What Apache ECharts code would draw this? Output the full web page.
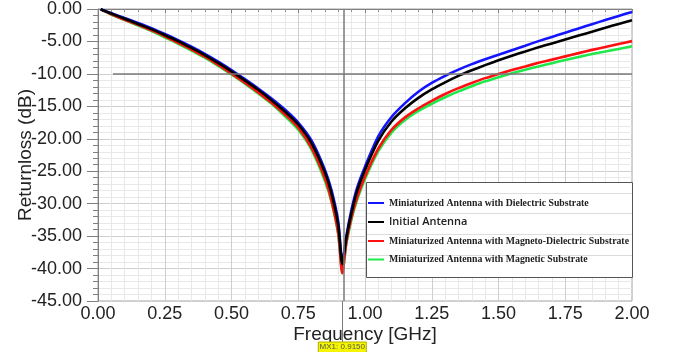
<!DOCTYPE html>
<html>
<head>
<meta charset="utf-8">
<script src="https://cdn.jsdelivr.net/npm/echarts@6/dist/echarts.min.js"></script>
<style>
  html, body { margin: 0; padding: 0; background: #fff; }
  #chart { width: 675px; height: 352px; }
</style>
</head>
<body>
<div id="chart"></div>
<script>
// frequency sweep (GHz)
const freq = [0.01,
  0.05, 0.1, 0.15, 0.2, 0.25, 0.3, 0.35, 0.4, 0.45, 0.5, 0.55, 0.6, 0.65, 0.7, 0.75, 0.8, 0.85,
  0.875, 0.9, 0.915, 0.93, 0.95, 0.97,
  1.0,
  1.05, 1.1, 1.15, 1.2, 1.25, 1.3, 1.35, 1.4, 1.45, 1.5, 1.55, 1.6, 1.65, 1.7, 1.75, 1.8, 1.85, 1.9, 1.95, 2.0];

// return loss (dB)
const dielectric = [-0.05,
  -0.65, -1.4, -2.15, -2.95, -3.85, -4.8, -5.8, -6.9, -8.1, -9.4, -10.8, -12.25, -13.8, -15.5, -17.5, -20.3, -24.8,
  -28.0, -32.8, -39.0, -35.0, -30.8, -27.6,
  -24.3,
  -19.6, -16.6, -14.5, -12.75, -11.4, -10.3, -9.35, -8.5, -7.75, -7.05, -6.35, -5.65, -4.95, -4.3, -3.65, -3.0, -2.35, -1.7, -1.07, -0.45];
const initial = [-0.05,
  -0.7, -1.5, -2.3, -3.1, -4.0, -4.95, -6.0, -7.1, -8.3, -9.6, -11.0, -12.45, -14.05, -15.8, -17.8, -20.7, -25.2,
  -28.5, -33.4, -39.3, -35.3, -31.3, -28.1,
  -24.8,
  -20.3, -17.3, -15.3, -13.7, -12.4, -11.3, -10.3, -9.45, -8.65, -7.9, -7.2, -6.55, -5.9, -5.3, -4.7, -4.1, -3.5, -2.9, -2.3, -1.75];
const magnetoDielectric = [-0.05,
  -0.8, -1.65, -2.45, -3.3, -4.2, -5.2, -6.25, -7.35, -8.6, -9.95, -11.35, -12.85, -14.45, -16.25, -18.3, -21.4, -26.1,
  -29.6, -34.6, -40.7, -36.0, -32.0, -29.1,
  -25.8,
  -21.5, -18.6, -16.7, -15.3, -14.15, -13.1, -12.2, -11.4, -10.65, -10.0, -9.4, -8.85, -8.3, -7.8, -7.3, -6.8, -6.3, -5.85, -5.4, -4.95];
const magnetic = [-0.05,
  -0.85, -1.7, -2.55, -3.4, -4.35, -5.35, -6.4, -7.5, -8.75, -10.1, -11.5, -13.0, -14.6, -16.5, -18.6, -21.7, -26.5,
  -29.8, -34.8, -40.7, -36.2, -32.3, -29.5,
  -26.2,
  -21.9, -19.0, -17.1, -15.7, -14.6, -13.6, -12.7, -11.9, -11.15, -10.5, -9.9, -9.35, -8.85, -8.35, -7.85, -7.4, -6.95, -6.55, -6.15, -5.75];

const seriesNames = [
  'Miniaturized Antenna with Dielectric Substrate',
  'Initial Antenna',
  'Miniaturized Antenna with Magneto-Dielectric Substrate',
  'Miniaturized Antenna with Magnetic Substrate'
];
const seriesColors = ['#1414ff', '#000000', '#ff1010', '#1ee84a'];
const legendStyleKeys = ['serif', 'sans', 'serif', 'serif'];

const markerFreq = 0.915;
const refLevel = -10;
const refStart = 0.056;

const FONT = "'Liberation Sans', Arial, sans-serif";
const SERIF = "'Liberation Serif', 'Times New Roman', serif";

const chart = echarts.init(document.getElementById('chart'));

const pairs = ys => freq.map((f, i) => [f, ys[i]]);

function line(name, ys, color, extra) {
  return Object.assign({
    name: name,
    type: 'line',
    data: pairs(ys),
    symbol: 'none',
    smooth: 0.25,
    lineStyle: { color: color, width: 2.6 },
    itemStyle: { color: color },
    silent: true
  }, extra || {});
}

const option = {
  animation: false,
  backgroundColor: '#fff',
  textStyle: { fontFamily: FONT },
  grid: {
    left: 98, right: 43, top: 9, bottom: 51,
    outerBoundsMode: 'none',
    show: true, borderColor: '#a0a0a0', borderWidth: 1, backgroundColor: '#fff'
  },
  xAxis: {
    type: 'value', min: 0, max: 2, interval: 0.25,
    name: 'Frequency [GHz]', nameLocation: 'middle', nameGap: 24, nameMoveOverlap: false,
    nameTextStyle: { fontSize: 19, color: '#222', fontFamily: FONT },
    axisLine: { show: true, lineStyle: { color: '#808080' } },
    axisTick: { show: true, length: 4, lineStyle: { color: '#808080' } },
    minorTick: { show: true, splitNumber: 5, length: 3, lineStyle: { color: '#909090' } },
    axisLabel: { fontSize: 18, color: '#222', margin: 4, formatter: v => v.toFixed(2), fontFamily: FONT },
    splitLine: { show: true, lineStyle: { color: '#cfcfcf', width: 1 } },
    minorSplitLine: { show: true, lineStyle: { color: '#e8e8e8', width: 1 } }
  },
  yAxis: {
    type: 'value', min: -45, max: 0, interval: 5,
    name: 'Returnloss (dB)', nameLocation: 'middle', nameGap: 63, nameMoveOverlap: false,
    nameTextStyle: { fontSize: 19, color: '#222', fontFamily: FONT },
    axisLine: { show: true, lineStyle: { color: '#808080' } },
    axisTick: { show: true, length: 11, lineStyle: { color: '#808080' } },
    minorTick: { show: true, splitNumber: 5, length: 5, lineStyle: { color: '#808080' } },
    axisLabel: { fontSize: 18, color: '#222', margin: 16, formatter: v => v.toFixed(2), fontFamily: FONT },
    splitLine: { show: true, lineStyle: { color: '#cfcfcf', width: 1 } },
    minorSplitLine: { show: true, lineStyle: { color: '#e8e8e8', width: 1 } }
  },
  legend: {
    data: seriesNames,
    orient: 'vertical',
    left: 368, top: 198,
    padding: 0,
    itemGap: 8.5,
    itemWidth: 16, itemHeight: 2,
    icon: 'rect',
    z: 120,
    selectedMode: false,
    formatter: name => '{' + legendStyleKeys[seriesNames.indexOf(name)] + '|' + name + '}',
    textStyle: {
      rich: {
        serif: { fontFamily: SERIF, fontWeight: 'bold', fontSize: 9.8, color: '#222', lineHeight: 12 },
        sans: { fontFamily: "'Open Sans', 'Liberation Sans', sans-serif", fontWeight: 600, fontSize: 11, color: '#222', lineHeight: 12 }
      }
    }
  },
  series: [
    line(seriesNames[3], magnetic, seriesColors[3]),
    line(seriesNames[2], magnetoDielectric, seriesColors[2]),
    line(seriesNames[0], dielectric, seriesColors[0]),
    line(seriesNames[1], initial, seriesColors[1], {
      markLine: {
        silent: true,
        symbol: 'none',
        label: { show: false },
        data: [
          [{ coord: [refStart, refLevel] }, { coord: [2, refLevel] }],
          { xAxis: markerFreq }
        ],
        lineStyle: { color: '#7a7a7a', width: 1.5, type: 'solid' }
      }
    })
  ]
};

chart.setOption(option);

// legend frame, row separators and the marker readout under the axis
const mx = chart.convertToPixel({ xAxisIndex: 0 }, markerFreq);
const axisBottom = chart.convertToPixel({ yAxisIndex: 0 }, -45);
const box = { x: 366, y: 182, w: 266, h: 95 };
const sepY = [193.5, 213.5, 234.5, 255.5];

chart.setOption({
  graphic: [
    {
      type: 'rect', z: 100,
      shape: { x: box.x + 0.5, y: box.y + 0.5, width: box.w, height: box.h },
      style: { fill: '#fff', stroke: '#555', lineWidth: 1 }
    }
  ].concat(sepY.map(y => ({
    type: 'line', z: 101,
    shape: { x1: box.x + 1, y1: y, x2: box.x + box.w, y2: y },
    style: { stroke: '#dcdcdc', lineWidth: 1 }
  }))).concat([
    {
      type: 'line', z: 1,
      shape: { x1: Math.round(mx) + 0.5, y1: axisBottom, x2: Math.round(mx) + 0.5, y2: 342 },
      style: { stroke: '#7a7a7a', lineWidth: 1 }
    },
    {
      type: 'rect', z: 100,
      shape: { x: mx - 24, y: 342, width: 48, height: 12 },
      style: { fill: '#f5f500', stroke: '#b0b000', lineWidth: 1 }
    },
    {
      type: 'text', z: 101,
      x: mx, y: 343,
      style: { text: 'MX1: 0.9150', fontSize: 8, fontFamily: FONT, fill: '#555', align: 'center', verticalAlign: 'top' }
    }
  ])
});
</script>
</body>
</html>
